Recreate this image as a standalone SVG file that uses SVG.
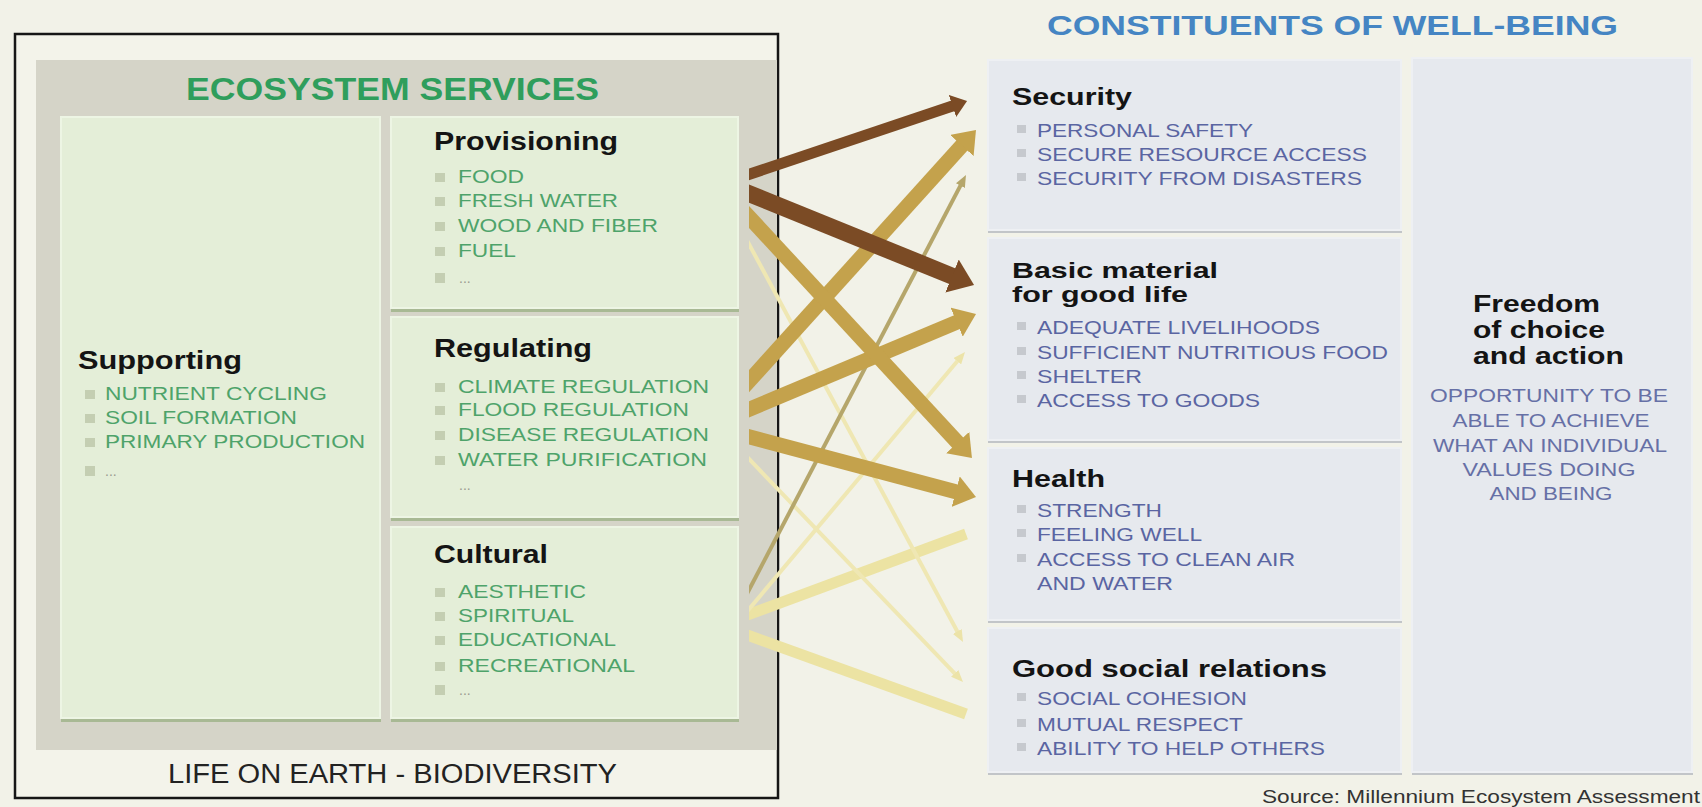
<svg xmlns="http://www.w3.org/2000/svg" width="1702" height="807" viewBox="0 0 1702 807">
<style>
text{font-family:"Liberation Sans",Arial,Helvetica,sans-serif}
.h{font-weight:bold;font-size:25px;fill:#141414}
.rh{font-weight:bold;font-size:24px;fill:#141414}
.gi{font-size:19px;fill:#4ea36a}
.bi{font-size:19px;fill:#5a65a2}
.di{font-size:18px;fill:#6670a6}
.dots{font-size:14px;fill:#9a9a90}
.svc{fill:#e4eed8;stroke:#edf5e4;stroke-width:2}
.svcsh{fill:#a8b994}
.wb{fill:#e6e9ee;stroke:#eef0f3;stroke-width:2}
.wbsh{fill:#c2c5c8}
.bl{fill:#c4ceb2}
.br{fill:#c6c9ce}
.arr{fill:none;stroke-linecap:butt}
</style>
<defs>
<marker id="hBrown" viewBox="0 0 10 10" refX="0.5" refY="5" markerWidth="1.4" markerHeight="2.1" markerUnits="strokeWidth" orient="auto" preserveAspectRatio="none"><path d="M0,0L10,5L0,10z" fill="#7b4b25"/></marker>
<marker id="hTan" viewBox="0 0 10 10" refX="0.5" refY="5" markerWidth="1.4" markerHeight="2.1" markerUnits="strokeWidth" orient="auto" preserveAspectRatio="none"><path d="M0,0L10,5L0,10z" fill="#c4a24c"/></marker>
<marker id="hPale" viewBox="0 0 10 10" refX="0.5" refY="5" markerWidth="3" markerHeight="2.5" markerUnits="strokeWidth" orient="auto" preserveAspectRatio="none"><path d="M0,0L10,5L0,10z" fill="#ece3a8"/></marker>
<marker id="hOlive" viewBox="0 0 10 10" refX="0.5" refY="5" markerWidth="3" markerHeight="2.5" markerUnits="strokeWidth" orient="auto" preserveAspectRatio="none"><path d="M0,0L10,5L0,10z" fill="#b5a66b"/></marker>
<clipPath id="clipArr"><rect x="749" y="0" width="300" height="807"/></clipPath>
</defs>

<rect x="0" y="0" width="1702" height="807" fill="#f2f2e8"/>

<g id="ecosystem-frame">
<rect x="15" y="34" width="763" height="764" fill="#f3f3ea" stroke="#161616" stroke-width="2.5"/>
<rect x="36" y="60" width="741" height="690" fill="#d5d4c8"/>
<text x="186" y="100" font-size="31" font-weight="bold" fill="#2f9e5c" textLength="413" lengthAdjust="spacingAndGlyphs">ECOSYSTEM SERVICES</text>
<text x="168" y="783" font-size="27" fill="#222" textLength="449" lengthAdjust="spacingAndGlyphs">LIFE ON EARTH - BIODIVERSITY</text>
</g>

<g id="supporting">
<rect class="svcsh" x="61" y="121" width="320" height="601"/>
<rect class="svc" x="61" y="117" width="319" height="601"/>
<text class="h" x="78" y="369" textLength="164" lengthAdjust="spacingAndGlyphs">Supporting</text>
<rect class="bl" x="85" y="390" width="10" height="9"/><text class="gi" x="105" y="400" textLength="222" lengthAdjust="spacingAndGlyphs">NUTRIENT CYCLING</text>
<rect class="bl" x="85" y="414" width="10" height="9"/><text class="gi" x="105" y="424" textLength="192" lengthAdjust="spacingAndGlyphs">SOIL FORMATION</text>
<rect class="bl" x="85" y="438" width="10" height="9"/><text class="gi" x="105" y="448" textLength="260" lengthAdjust="spacingAndGlyphs">PRIMARY PRODUCTION</text>
<rect class="bl" x="85" y="466" width="10" height="10"/><text class="dots" x="105" y="476">...</text>
</g>

<g id="provisioning">
<rect class="svcsh" x="391" y="121" width="348" height="191"/>
<rect class="svc" x="391" y="117" width="347" height="191"/>
<text class="h" x="434" y="150" textLength="184" lengthAdjust="spacingAndGlyphs">Provisioning</text>
<rect class="bl" x="435" y="173" width="10" height="9"/><text class="gi" x="458" y="183" textLength="66" lengthAdjust="spacingAndGlyphs">FOOD</text>
<rect class="bl" x="435" y="197" width="10" height="9"/><text class="gi" x="458" y="207" textLength="160" lengthAdjust="spacingAndGlyphs">FRESH WATER</text>
<rect class="bl" x="435" y="222" width="10" height="9"/><text class="gi" x="458" y="232" textLength="200" lengthAdjust="spacingAndGlyphs">WOOD AND FIBER</text>
<rect class="bl" x="435" y="247" width="10" height="9"/><text class="gi" x="458" y="257" textLength="58" lengthAdjust="spacingAndGlyphs">FUEL</text>
<rect class="bl" x="435" y="273" width="10" height="10"/><text class="dots" x="459" y="283">...</text>
</g>

<g id="regulating">
<rect class="svcsh" x="391" y="321" width="348" height="200"/>
<rect class="svc" x="391" y="317" width="347" height="200"/>
<text class="h" x="434" y="357" textLength="158" lengthAdjust="spacingAndGlyphs">Regulating</text>
<rect class="bl" x="435" y="383" width="10" height="9"/><text class="gi" x="458" y="393" textLength="251" lengthAdjust="spacingAndGlyphs">CLIMATE REGULATION</text>
<rect class="bl" x="435" y="406" width="10" height="9"/><text class="gi" x="458" y="416" textLength="231" lengthAdjust="spacingAndGlyphs">FLOOD REGULATION</text>
<rect class="bl" x="435" y="431" width="10" height="9"/><text class="gi" x="458" y="441" textLength="251" lengthAdjust="spacingAndGlyphs">DISEASE REGULATION</text>
<rect class="bl" x="435" y="456" width="10" height="9"/><text class="gi" x="458" y="466" textLength="249" lengthAdjust="spacingAndGlyphs">WATER PURIFICATION</text>
<text class="dots" x="459" y="490">...</text>
</g>

<g id="cultural">
<rect class="svcsh" x="391" y="531" width="348" height="191"/>
<rect class="svc" x="391" y="527" width="347" height="191"/>
<text class="h" x="434" y="563" textLength="114" lengthAdjust="spacingAndGlyphs">Cultural</text>
<rect class="bl" x="435" y="588" width="10" height="9"/><text class="gi" x="458" y="598" textLength="128" lengthAdjust="spacingAndGlyphs">AESTHETIC</text>
<rect class="bl" x="435" y="612" width="10" height="9"/><text class="gi" x="458" y="622" textLength="116" lengthAdjust="spacingAndGlyphs">SPIRITUAL</text>
<rect class="bl" x="435" y="636" width="10" height="9"/><text class="gi" x="458" y="646" textLength="158" lengthAdjust="spacingAndGlyphs">EDUCATIONAL</text>
<rect class="bl" x="435" y="662" width="10" height="9"/><text class="gi" x="458" y="672" textLength="177" lengthAdjust="spacingAndGlyphs">RECREATIONAL</text>
<rect class="bl" x="435" y="685" width="10" height="10"/><text class="dots" x="459" y="695">...</text>
</g>

<g id="wellbeing-title">
<text x="1047" y="35" font-size="28" font-weight="bold" fill="#4585c3" textLength="571" lengthAdjust="spacingAndGlyphs">CONSTITUENTS OF WELL-BEING</text>
<text x="1262" y="803" font-size="18" fill="#333" textLength="438" lengthAdjust="spacingAndGlyphs">Source: Millennium Ecosystem Assessment</text>
</g>

<g id="security">
<rect class="wbsh" x="988" y="63" width="414" height="170"/>
<rect class="wb" x="988" y="60" width="413" height="170"/>
<text class="rh" x="1012" y="105" textLength="120" lengthAdjust="spacingAndGlyphs">Security</text>
<rect class="br" x="1017" y="125" width="9" height="8"/><text class="bi" x="1037" y="137" textLength="216" lengthAdjust="spacingAndGlyphs">PERSONAL SAFETY</text>
<rect class="br" x="1017" y="149" width="9" height="8"/><text class="bi" x="1037" y="161" textLength="330" lengthAdjust="spacingAndGlyphs">SECURE RESOURCE ACCESS</text>
<rect class="br" x="1017" y="173" width="9" height="8"/><text class="bi" x="1037" y="185" textLength="325" lengthAdjust="spacingAndGlyphs">SECURITY FROM DISASTERS</text>
</g>

<g id="basic-material">
<rect class="wbsh" x="988" y="241" width="414" height="202"/>
<rect class="wb" x="988" y="238" width="413" height="202"/>
<text class="rh" style="font-size:22px"><tspan x="1012" y="278" textLength="206" lengthAdjust="spacingAndGlyphs">Basic material</tspan><tspan x="1012" y="302" textLength="176" lengthAdjust="spacingAndGlyphs">for good life</tspan></text>
<rect class="br" x="1017" y="322" width="9" height="8"/><text class="bi" x="1037" y="334" textLength="283" lengthAdjust="spacingAndGlyphs">ADEQUATE LIVELIHOODS</text>
<rect class="br" x="1017" y="347" width="9" height="8"/><text class="bi" x="1037" y="359" textLength="351" lengthAdjust="spacingAndGlyphs">SUFFICIENT NUTRITIOUS FOOD</text>
<rect class="br" x="1017" y="371" width="9" height="8"/><text class="bi" x="1037" y="383" textLength="105" lengthAdjust="spacingAndGlyphs">SHELTER</text>
<rect class="br" x="1017" y="395" width="9" height="8"/><text class="bi" x="1037" y="407" textLength="223" lengthAdjust="spacingAndGlyphs">ACCESS TO GOODS</text>
</g>

<g id="health">
<rect class="wbsh" x="988" y="451" width="414" height="172"/>
<rect class="wb" x="988" y="448" width="413" height="172"/>
<text class="rh" x="1012" y="487" textLength="93" lengthAdjust="spacingAndGlyphs">Health</text>
<rect class="br" x="1017" y="505" width="9" height="8"/><text class="bi" x="1037" y="517" textLength="125" lengthAdjust="spacingAndGlyphs">STRENGTH</text>
<rect class="br" x="1017" y="529" width="9" height="8"/><text class="bi" x="1037" y="541" textLength="165" lengthAdjust="spacingAndGlyphs">FEELING WELL</text>
<rect class="br" x="1017" y="554" width="9" height="8"/><text class="bi"><tspan x="1037" y="566" textLength="258" lengthAdjust="spacingAndGlyphs">ACCESS TO CLEAN AIR</tspan><tspan x="1037" y="590" textLength="136" lengthAdjust="spacingAndGlyphs">AND WATER</tspan></text>
</g>

<g id="social-relations">
<rect class="wbsh" x="988" y="631" width="414" height="144"/>
<rect class="wb" x="988" y="628" width="413" height="144"/>
<text class="rh" x="1012" y="677" textLength="315" lengthAdjust="spacingAndGlyphs">Good social relations</text>
<rect class="br" x="1017" y="693" width="9" height="8"/><text class="bi" x="1037" y="705" textLength="210" lengthAdjust="spacingAndGlyphs">SOCIAL COHESION</text>
<rect class="br" x="1017" y="719" width="9" height="8"/><text class="bi" x="1037" y="731" textLength="206" lengthAdjust="spacingAndGlyphs">MUTUAL RESPECT</text>
<rect class="br" x="1017" y="743" width="9" height="8"/><text class="bi" x="1037" y="755" textLength="288" lengthAdjust="spacingAndGlyphs">ABILITY TO HELP OTHERS</text>
</g>

<g id="freedom">
<rect class="wbsh" x="1412" y="61" width="281" height="714"/>
<rect class="wb" x="1412" y="58" width="280" height="714"/>
<text class="rh"><tspan x="1473" y="312" textLength="127" lengthAdjust="spacingAndGlyphs">Freedom</tspan><tspan x="1473" y="338" textLength="132" lengthAdjust="spacingAndGlyphs">of choice</tspan><tspan x="1473" y="364" textLength="151" lengthAdjust="spacingAndGlyphs">and action</tspan></text>
<text class="di" text-anchor="middle"><tspan x="1549" y="402" textLength="238" lengthAdjust="spacingAndGlyphs">OPPORTUNITY TO BE</tspan><tspan x="1551" y="427" textLength="197" lengthAdjust="spacingAndGlyphs">ABLE TO ACHIEVE</tspan><tspan x="1550" y="452" textLength="234" lengthAdjust="spacingAndGlyphs">WHAT AN INDIVIDUAL</tspan><tspan x="1549" y="476" textLength="173" lengthAdjust="spacingAndGlyphs">VALUES DOING</tspan><tspan x="1551" y="500" textLength="123" lengthAdjust="spacingAndGlyphs">AND BEING</tspan></text>
</g>

<g id="connectors" class="arr" clip-path="url(#clipArr)">
<path d="M740,617.7L966,534" stroke="#ece3a3" stroke-width="11"/>
<path d="M740,632.4L966,714" stroke="#ece3a3" stroke-width="11"/>
<path d="M740,227.4L957.6,632" stroke="#efe7b3" stroke-width="4" marker-end="url(#hPale)"/>
<path d="M740,449.6L955.1,673.8" stroke="#efe7b3" stroke-width="4" marker-end="url(#hPale)"/>
<path d="M740,619.9L957.7,360.7" stroke="#efe7b3" stroke-width="4" marker-end="url(#hPale)"/>
<path d="M740,607.1L960.7,185.1" stroke="#b5a66b" stroke-width="4" marker-end="url(#hOlive)"/>
<path d="M740,391.1L962.6,144.8" stroke="#c4a24c" stroke-width="15" marker-end="url(#hTan)"/>
<path d="M740,413.2L957.6,321.8" stroke="#c4a24c" stroke-width="15" marker-end="url(#hTan)"/>
<path d="M740,434.3L956.7,491.9" stroke="#c4a24c" stroke-width="15" marker-end="url(#hTan)"/>
<path d="M740,207.2L958.4,443.3" stroke="#c4a24c" stroke-width="15" marker-end="url(#hTan)"/>
<path d="M740,177.4L953.2,105.7" stroke="#7b4b25" stroke-width="11" marker-end="url(#hBrown)"/>
<path d="M740,189.9L953.1,276.5" stroke="#7b4b25" stroke-width="17" marker-end="url(#hBrown)"/>
</g>
</svg>
